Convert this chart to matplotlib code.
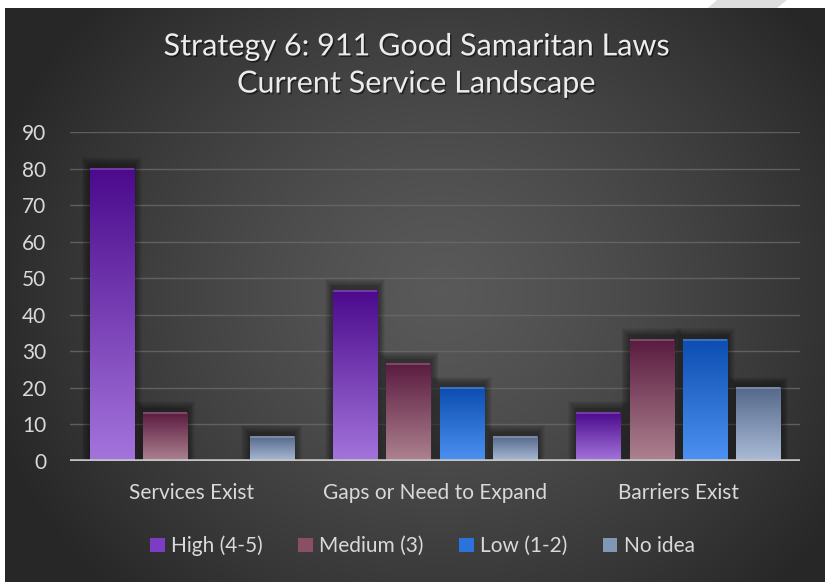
import numpy as np
import matplotlib
matplotlib.use("Agg")
import matplotlib.pyplot as plt
from matplotlib.colors import LinearSegmentedColormap
from matplotlib.patches import Rectangle, Polygon
import matplotlib.patheffects as pe

# ---------------- data ----------------
title = "Strategy 6: 911 Good Samaritan Laws\nCurrent Service Landscape"
categories = ["Services Exist", "Gaps or Need to Expand", "Barriers Exist"]
series_names = ["High (4-5)", "Medium (3)", "Low (1-2)", "No idea"]
high = [80.0, 46.7, 13.3]
medium = [13.3, 26.7, 33.3]
low = [0.0, 20.0, 33.3]
no_idea = [6.7, 6.7, 20.0]
y_ticks = [0, 10, 20, 30, 40, 50, 60, 70, 80, 90]

series_values = [high, medium, low, no_idea]
# gradient colours (top, bottom) per series
grad_colors = [("#4b0a8c", "#a474dc"),
               ("#5a1b3f", "#ad8290"),
               ("#0b4db0", "#4d92f2"),
               ("#55688a", "#aabbd6")]
legend_colors = ["#7d3cc4", "#8a4e66", "#2a72dc", "#8296b6"]

plt.rcParams['font.family'] = ['Lato', 'DejaVu Sans']

W, H = 825, 582
fig = plt.figure(figsize=(W / 100, H / 100), dpi=100, facecolor="white")

# ---------------- background (dark radial gradient) ----------------
bg = fig.add_axes([5 / W, 0, 1 - 5 / W, 1 - 8 / H], zorder=0)
bg.set_axis_off()
ny, nx = 300, 420
yy, xx = np.mgrid[0:ny, 0:nx]
px = xx / nx * (W - 5) + 5
py = yy / ny * (H - 8) + 8
r = np.sqrt(((px - 440) / 470) ** 2 + ((py - 290) / 420) ** 2)
r = np.clip(r, 0, 1)
val = 0.35 - (0.35 - 0.155) * r ** 1.3
bg.imshow(np.dstack([val, val, val]), extent=(0, 1, 0, 1), aspect="auto",
          interpolation="bilinear", origin="upper")
bg.set_xlim(0, 1)
bg.set_ylim(0, 1)

# light diagonal stripe at the top right (page decoration)
fig.patches.append(Polygon([(717 / W, 1.0), (787 / W, 1.0),
                            (777 / W, 1 - 8 / H), (708 / W, 1 - 8 / H)],
                           closed=True, transform=fig.transFigure,
                           facecolor="#dedede", edgecolor="none", zorder=1))

# ---------------- main plot ----------------
ax = fig.add_axes([70 / W, 1 - 461 / H, 730 / W, 329 / H], zorder=2)
ax.set_facecolor("none")
for s in ax.spines.values():
    s.set_visible(False)

x = np.arange(len(categories))
bar_w = 0.181
step = 0.219
offsets = (np.arange(4) - 1.5) * step

ax.set_xlim(-0.5, len(categories) - 0.5)
ax.set_ylim(0, 90)

px_x = 3.0 / 730.0
px_y = 90.0 / 329.0

for si, vals in enumerate(series_values):
    top_c, bot_c = grad_colors[si]
    cmap = LinearSegmentedColormap.from_list(f"g{si}", [bot_c, top_c])
    for ci, v in enumerate(vals):
        if v <= 0:
            continue
        x0 = x[ci] + offsets[si] - bar_w / 2
        x1 = x0 + bar_w
        # soft shadow
        for k in range(1, 10):
            ax.add_patch(Rectangle((x0 - k * px_x * 0.9, 0),
                                   bar_w + 2 * k * px_x * 0.9,
                                   v + (3 + k * 0.9) * px_y,
                                   facecolor="black", edgecolor="none",
                                   alpha=0.05, zorder=2))
        grad = np.linspace(0, 1, 256).reshape(-1, 1)
        ax.imshow(grad, cmap=cmap, extent=(x0, x1, 0, v), origin="lower",
                  aspect="auto", interpolation="bilinear", zorder=3)
        # thin light top edge
        ax.plot([x0, x1], [v - 0.6 * px_y, v - 0.6 * px_y], color="white",
                alpha=0.25, lw=1.2, zorder=4, solid_capstyle="butt")

ax.set_xlim(-0.5, len(categories) - 0.5)
ax.set_ylim(0, 90)

# grid
ax.set_yticks(y_ticks)
ax.yaxis.grid(True, color="#6a6a6a", lw=1.0, alpha=0.8, zorder=1)
ax.set_axisbelow(True)
ax.axhline(0, color="#c4c4c4", lw=2.6, zorder=5)

ax.set_xticks(x)
ax.set_xticklabels(categories)
ax.tick_params(axis="both", length=0, colors="#d9d9d9", labelsize=15)
ax.tick_params(axis="y", pad=17)
ax.tick_params(axis="x", pad=16)

# title
fig.text(0.504, 1 - 65 / H, title, ha="center", va="center", fontsize=22,
         fontweight="normal", color="#ececec", linespacing=1.4,
         path_effects=[pe.withSimplePatchShadow(offset=(1, -1.2),
                                                shadow_rgbFace="black",
                                                alpha=0.5)])

# legend
handles = [Rectangle((0, 0), 1, 1, facecolor=c, edgecolor="none")
           for c in legend_colors]
leg = fig.legend(handles, series_names, loc="center",
                 bbox_to_anchor=(0.512, 1 - 546 / H), ncol=4, frameon=False,
                 fontsize=15, handlelength=0.7, handleheight=0.7,
                 handletextpad=0.3, columnspacing=1.7, labelcolor="#d9d9d9")

fig.savefig("out.png", dpi=100, facecolor="white")
